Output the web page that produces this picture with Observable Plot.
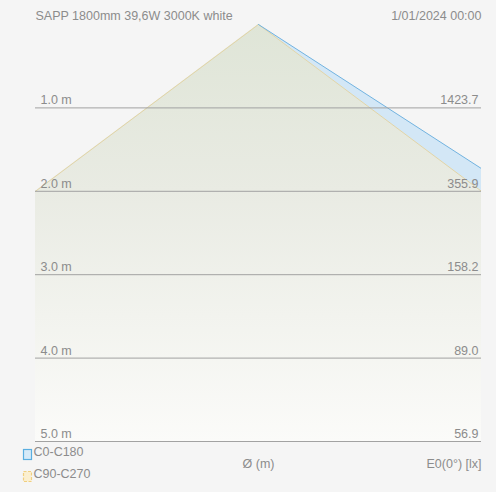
<!DOCTYPE html>
<html>
<head>
<meta charset="utf-8">
<script src="https://cdn.jsdelivr.net/npm/d3@7"></script>
<script src="https://cdn.jsdelivr.net/npm/@observablehq/plot@0.6"></script>
<style>
  html, body { margin: 0; padding: 0; background: #f5f5f5; }
  #chart svg { display: block; }
</style>
</head>
<body>
<div id="chart"></div>
<script>
// ---- data ----
const title = "SAPP 1800mm 39,6W 3000K white";
const dateLabel = "1/01/2024 00:00";
const distances = [1, 2, 3, 4, 5];                       // m
const distanceLabels = ["1.0 m", "2.0 m", "3.0 m", "4.0 m", "5.0 m"];
const illuminance = ["1423.7", "355.9", "158.2", "89.0", "56.9"]; // E0 lx
const coneDist = [0, 1, 2, 3, 4, 5];                      // m
const diamC0 = [0, 3.09, 6.18, 9.27, 12.36, 15.45];       // Ø m, C0-C180
const diamC90 = [0, 2.67, 5.34, 8.01, 10.68, 13.35];      // Ø m, C90-C270
const xHalf = 2.67;                                       // half of visible Ø range
const seriesNames = ["C0-C180", "C90-C270"];
const xLabel = "Ø (m)";
const eLabel = "E0(0°) [lx]";

const cone = coneDist.map((d, i) => ({d, r0: diamC0[i] / 2, r90: diamC90[i] / 2}));
const grid = distances.map((d, i) => ({d, label: distanceLabels[i], e: illuminance[i]}));

const font = "Liberation Sans, Arial, sans-serif";
const gray = "#8c8c8c";
const fs = 12.5;

const plot = Plot.plot({
  width: 496,
  height: 492,
  marginLeft: 35,
  marginRight: 15,
  marginTop: 24,
  marginBottom: 51,
  style: {background: "#f5f5f5", fontFamily: font, fontSize: "12.5px", color: gray},
  x: {domain: [-xHalf, xHalf], axis: null},
  y: {domain: [0, 5], reverse: true, axis: null},
  marks: [
    // cone fill (C90-C270 symmetric)
    Plot.areaX(cone, {y: "d", x1: d => -d.r90, x2: "r90", fill: "url(#coneGrad)", clip: "frame"}),
    // blue band on right (C0-C180)
    Plot.areaX(cone, {y: "d", x1: "r90", x2: "r0", fill: "#d3e7f6", clip: "frame"}),
    // edges
    Plot.line(cone, {x: d => -d.r90, y: "d", stroke: "#e2d4a6", strokeWidth: 1, clip: "frame"}),
    Plot.line(cone, {x: "r90", y: "d", stroke: "#e2d4a6", strokeWidth: 1, clip: "frame"}),
    Plot.line(cone, {x: "r0", y: "d", stroke: "#72b3e0", strokeWidth: 1, clip: "frame"}),
    // distance rules
    Plot.ruleY(grid, {y: "d", stroke: "#a2a2a2", strokeWidth: 1}),
    Plot.text(grid, {y: "d", text: "label", frameAnchor: "left", textAnchor: "start", dx: 5, dy: -7.5, fill: gray, fontSize: fs}),
    Plot.text(grid, {y: "d", text: "e", frameAnchor: "right", textAnchor: "end", dx: -3, dy: -7.5, fill: gray, fontSize: fs}),
    // header
    Plot.text([title], {text: d => d, frameAnchor: "top-left", textAnchor: "start", dy: -13, fill: gray, fontSize: fs}),
    Plot.text([dateLabel], {text: d => d, frameAnchor: "top-right", textAnchor: "end", dy: -13, fill: gray, fontSize: fs}),
    // footer
    Plot.text([xLabel], {text: d => d, frameAnchor: "bottom", dy: 26, fill: gray, fontSize: fs}),
    Plot.text([eLabel], {text: d => d, frameAnchor: "bottom-right", textAnchor: "end", dy: 26, fill: gray, fontSize: fs}),
    Plot.text([seriesNames[0]], {text: d => d, frameAnchor: "bottom-left", textAnchor: "start", dx: -2, dy: 14, fill: gray, fontSize: fs}),
    Plot.text([seriesNames[1]], {text: d => d, frameAnchor: "bottom-left", textAnchor: "start", dx: -2, dy: 36, fill: gray, fontSize: fs})
  ]
});

// gradient for the cone
const svg = d3.select(plot);
const defs = svg.insert("defs", ":first-child");
const grad = defs.append("linearGradient")
  .attr("id", "coneGrad")
  .attr("gradientUnits", "userSpaceOnUse")
  .attr("x1", 0).attr("x2", 0).attr("y1", 24).attr("y2", 441);
grad.append("stop").attr("offset", "0%").attr("stop-color", "#dfe5d7");
grad.append("stop").attr("offset", "40%").attr("stop-color", "#e9ebe3");
grad.append("stop").attr("offset", "100%").attr("stop-color", "#fbfbf9");

// legend swatches
const lg = svg.append("g");
lg.append("rect").attr("x", 23.5).attr("y", 449.5).attr("width", 8).attr("height", 10)
  .attr("fill", "#d6eaf8").attr("stroke", "#5aaee0").attr("stroke-width", 1.2);
lg.append("rect").attr("x", 23.5).attr("y", 471.5).attr("width", 8).attr("height", 10)
  .attr("fill", "#fbefcf").attr("stroke", "#f0cf80").attr("stroke-width", 1.2).attr("stroke-dasharray", "3,1.5");

document.getElementById("chart").appendChild(plot);
</script>
</body>
</html>
